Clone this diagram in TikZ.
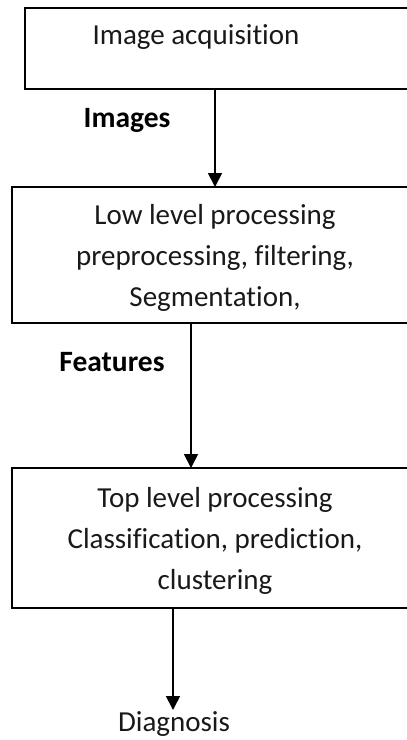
\documentclass[tikz,border=0pt]{standalone}
\usepackage{fontspec}
\setmainfont[Ligatures=NoCommon]{Carlito}
\usetikzlibrary{arrows.meta}
\begin{document}
\begin{tikzpicture}[x=1pt,y=-1pt,
  box/.style={draw=black,line width=1.8pt,inner sep=0pt,outer sep=0pt,minimum width=#1},
  txt/.style={font=\fontsize{29}{41}\selectfont,align=center,inner sep=0pt,text=black!90},
  lbl/.style={font=\fontsize{29.5}{34}\selectfont\bfseries,inner sep=0pt},
  arr/.style={line width=1.8pt,-{Triangle[width=14pt,length=14pt]}}]
\useasboundingbox (0,0) rectangle (407,740);
% boxes
\node[box=395pt,minimum height=81pt] (b1) at (222.5,48.5) {};
\node[box=408pt,minimum height=136pt] (b2) at (216,255) {};
\node[box=408pt,minimum height=140pt] (b3) at (216,538) {};
% texts
\node[txt] (t1) at (196,37) {Image acquisition};
\node[txt] (t2) at (215,258) {Low level processing\\preprocessing, filtering,\\Segmentation,};
\node[txt] (t3) at (215,541) {Top level processing\\Classification, prediction,\\clustering};
\node[lbl] (l1) at (127,120) {Images};
\node[lbl] (l2) at (112,362) {Features};
\node[txt] (d) at (174,724) {Diagnosis};
% arrow x positions
\coordinate (a1) at (215,0);
\coordinate (a2) at (191,0);
\coordinate (a3) at (173,0);
\coordinate (e3) at (173,710);
\draw[arr] (b1.south -| a1) -- (b2.north -| a1);
\draw[arr] (b2.south -| a2) -- (b3.north -| a2);
\draw[arr] (b3.south -| a3) -- (e3);
\end{tikzpicture}
\end{document}
